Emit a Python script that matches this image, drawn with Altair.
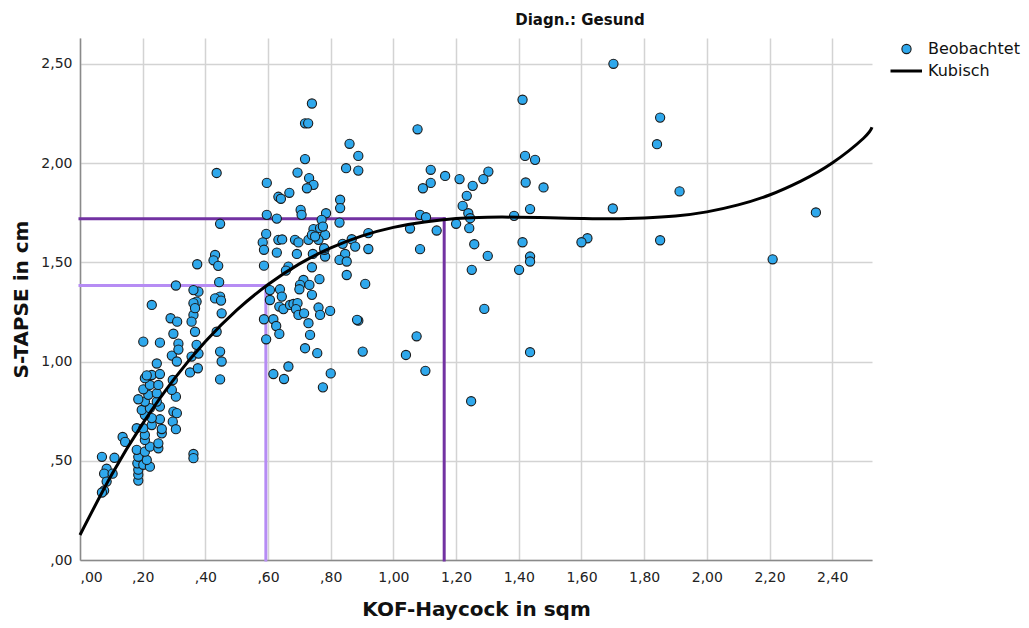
import altair as alt
import pandas as pd

# ---- observed data (KOF-Haycock in sqm, S-TAPSE in cm) ----
kof = [
    0.070, 0.110, 0.085, 0.077, 0.104, 0.085, 0.077, 0.070, 0.136, 0.144,
    0.186, 0.186, 0.186, 0.183, 0.202, 0.223, 0.213, 0.186, 0.181, 0.207,
    0.223, 0.250, 0.250, 0.207, 0.207, 0.181, 0.202, 0.229, 0.261, 0.261,
    0.255, 0.229, 0.207, 0.197, 0.223, 0.255, 0.245, 0.207, 0.186, 0.218,
    0.245, 0.202, 0.223, 0.250, 0.207, 0.229, 0.255, 0.213, 0.245, 0.202,
    0.255,
    0.298, 0.309, 0.296, 0.306, 0.306, 0.293, 0.296, 0.351, 0.376, 0.362,
    0.362, 0.293, 0.309, 0.298, 0.314, 0.314, 0.229, 0.356, 0.378, 0.372,
    0.436, 0.447, 0.452, 0.447, 0.452, 0.362, 0.367,
    0.436, 0.447, 0.431, 0.426, 0.441, 0.374, 0.306, 0.444, 0.447, 0.431,
    0.450, 0.378, 0.362, 0.372, 0.362, 0.367, 0.356, 0.289, 0.310,
    0.740, 0.718, 0.728, 0.718, 0.694, 0.596, 0.633, 0.641, 0.668, 0.731,
    0.745, 0.724, 0.596, 0.628, 0.704, 0.707, 0.785, 0.594, 0.583, 0.587,
    0.633, 0.645, 0.628, 0.686, 0.697, 0.729, 0.745, 0.740, 0.766, 0.782,
    0.761, 0.782, 0.743, 0.692, 0.587, 0.665, 0.657, 0.740, 0.764, 0.713,
    0.702, 0.732, 0.700, 0.740, 0.638, 0.644, 0.606, 0.606, 0.636, 0.649,
    0.670, 0.681, 0.694, 0.689, 0.697, 0.715, 0.761, 0.766, 0.798, 0.729,
    0.734, 0.587, 0.617, 0.626, 0.636, 0.594, 0.718, 0.757, 0.665, 0.617,
    0.651, 0.800, 0.775, 0.780, 0.771, 0.750,
    0.860, 0.888, 0.849, 0.888, 1.077, 0.830, 0.830, 0.828, 0.775, 0.779,
    0.867, 0.920, 0.838, 0.878, 0.920, 0.846, 0.828, 0.851, 0.851, 0.910,
    0.888, 0.884, 0.902, 1.053, 1.085, 1.085, 1.074, 1.040,
    1.119, 1.165, 1.211, 1.119, 1.094, 1.303, 1.287, 1.253, 1.234, 1.221,
    1.239, 1.245, 1.200, 1.242, 1.104, 1.138, 1.258, 1.301, 1.250, 1.290,
    1.102, 1.248, 1.420, 1.452, 1.422, 1.479, 1.436, 1.385, 1.412, 1.436,
    1.436, 1.401, 1.436, 1.412,
    1.702, 1.851, 1.841, 1.913, 1.700, 1.619, 1.600, 1.851, 2.210, 2.348,
]
tapse = [
    0.520, 0.515, 0.460, 0.435, 0.435, 0.395, 0.350, 0.340, 0.620, 0.595,
    0.400, 0.430, 0.455, 0.487, 0.480, 0.470, 0.504, 0.520, 0.555, 0.546,
    0.571, 0.563, 0.588, 0.605, 0.630, 0.664, 0.664, 0.680, 0.638, 0.660,
    0.709, 0.715, 0.730, 0.756, 0.765, 0.773, 0.798, 0.798, 0.810, 0.832,
    0.840, 0.860, 0.882, 0.882, 0.916, 0.932, 0.937, 0.930, 0.990, 1.100,
    1.095,
    0.748, 0.740, 0.697, 0.659, 0.823, 0.857, 0.907, 0.945, 0.966, 0.534,
    0.513, 1.030, 1.000, 1.140, 1.090, 1.060, 1.285, 1.025, 1.040, 1.084,
    1.150, 1.050, 1.000, 0.910, 1.243, 1.235, 1.150,
    1.950, 1.694, 1.537, 1.510, 1.482, 1.490, 1.383, 1.400, 1.327, 1.318,
    1.307, 1.352, 1.360, 1.302, 1.294, 1.269, 1.201, 1.218, 1.201,
    2.300, 2.200, 2.200, 2.020, 1.952, 1.900, 1.830, 1.820, 1.850, 1.924,
    1.890, 1.873, 1.739, 1.720, 1.764, 1.739, 1.747, 1.643, 1.600, 1.563,
    1.613, 1.615, 1.549, 1.613, 1.600, 1.613, 1.667, 1.638, 1.672, 1.638,
    1.613, 1.529, 1.542, 1.542, 1.483, 1.478, 1.458, 1.475, 1.415, 1.411,
    1.386, 1.386, 1.364, 1.336, 1.364, 1.327, 1.360, 1.310, 1.277, 1.264,
    1.285, 1.290, 1.294, 1.264, 1.235, 1.243, 1.272, 1.235, 1.255, 1.193,
    1.134, 1.213, 1.213, 1.179, 1.139, 1.112, 1.067, 1.042, 0.975, 0.937,
    0.912, 0.940, 0.870, 1.563, 1.714, 1.630,
    2.097, 2.036, 1.974, 1.962, 2.170, 1.815, 1.773, 1.700, 1.680, 1.571,
    1.616, 1.647, 1.593, 1.579, 1.567, 1.542, 1.512, 1.504, 1.436, 1.391,
    1.206, 1.210, 1.050, 1.670, 1.739, 1.566, 1.127, 1.033,
    1.966, 1.935, 1.919, 1.900, 1.873, 1.957, 1.919, 1.885, 1.835, 1.784,
    1.747, 1.722, 1.694, 1.672, 1.727, 1.660, 1.591, 1.532, 1.462, 1.265,
    0.953, 0.800, 2.036, 2.016, 1.902, 1.877, 1.768, 1.734, 1.601, 1.529,
    1.504, 1.462, 1.047, 2.319,
    2.500, 2.229, 2.095, 1.857, 1.771, 1.621, 1.601, 1.611, 1.515, 1.751,
]

# ---- cubic fit line ----
curve_x = [0.0, 0.1, 0.2, 0.3, 0.4, 0.5, 0.6, 0.7, 0.8, 0.9, 1.0, 1.1, 1.2,
           1.3, 1.4, 1.5, 1.6, 1.7, 1.8, 1.9, 2.0, 2.1, 2.2, 2.3, 2.4, 2.5, 2.527]
curve_y = [0.126, 0.427, 0.687, 0.911, 1.101, 1.259, 1.388, 1.492, 1.572, 1.633,
           1.676, 1.703, 1.720, 1.727, 1.727, 1.724, 1.721, 1.719, 1.723, 1.733,
           1.754, 1.789, 1.839, 1.909, 2.000, 2.125, 2.180]

# ---- reference guide lines ----
ref_x = [0.593, 1.162]
ref_y = [1.383, 1.719]
ref_color = ["#b68cf4", "#7232a2"]

x_ticks = [0.0, 0.2, 0.4, 0.6, 0.8, 1.0, 1.2, 1.4, 1.6, 1.8, 2.0, 2.2, 2.4]
y_ticks = [0.0, 0.5, 1.0, 1.5, 2.0, 2.5]
legend_labels = ["Beobachtet", "Kubisch"]
title_text = ["Diagn.: Gesund"]

FONT = "DejaVu Sans"
POINT_FILL = "#2fa8ec"

pts = pd.DataFrame({"kof": kof, "tapse": tapse})
cur = pd.DataFrame({"kof": curve_x, "tapse": curve_y})
refs = pd.DataFrame({"rx": ref_x, "ry": ref_y, "c": ref_color, "zero": [0.0, 0.0]})

label_expr = ("datum.value < 1 ? replace(format(datum.value, '.2f'), '0.', ',') "
              ": replace(format(datum.value, '.2f'), '.', ',')")

xs = alt.Scale(domain=[0, 2.527], nice=False, zero=False)
ys = alt.Scale(domain=[0, 2.63], nice=False, zero=False)

common_axis = dict(
    labelExpr=label_expr, grid=True, gridColor="#d3d3d3", gridWidth=1.5,
    domainColor="#8a8a8a", domainWidth=1.5, ticks=False, tickSize=0,
    labelFont=FONT, labelFontSize=14, labelColor="#222222",
    titleFont=FONT, titleFontSize=20, titleFontWeight="bold", titleColor="#111111",
)
xaxis = alt.Axis(values=x_ticks, title="KOF-Haycock in sqm", labelPadding=10,
                 titlePadding=15, **common_axis)
yaxis = alt.Axis(values=y_ticks, title="S-TAPSE in cm", labelPadding=8,
                 titlePadding=9, **common_axis)

ref_h = alt.Chart(refs).mark_rule(strokeWidth=3, strokeCap="square").encode(
    x=alt.X("zero:Q", scale=xs, axis=xaxis),
    x2="rx:Q",
    y=alt.Y("ry:Q", scale=ys, axis=yaxis),
    color=alt.Color("c:N", scale=None),
)
ref_v = alt.Chart(refs).mark_rule(strokeWidth=3, strokeCap="square").encode(
    x=alt.X("rx:Q", scale=xs, axis=xaxis),
    y=alt.Y("zero:Q", scale=ys, axis=yaxis),
    y2="ry:Q",
    color=alt.Color("c:N", scale=None),
)

points = alt.Chart(pts).mark_point(
    shape="circle", filled=True, size=85, fill=POINT_FILL, stroke="#1a1a1a",
    strokeWidth=1.1, opacity=1,
).encode(
    x=alt.X("kof:Q", scale=xs, axis=xaxis),
    y=alt.Y("tapse:Q", scale=ys, axis=yaxis),
)

curve = alt.Chart(cur).mark_line(color="black", strokeWidth=3, interpolate="natural").encode(
    x=alt.X("kof:Q", scale=xs, axis=xaxis),
    y=alt.Y("tapse:Q", scale=ys, axis=yaxis),
)

# ---- panel title (placed over the chart like the SPSS header) ----
ttl = alt.Chart(pd.DataFrame({"label": title_text})).mark_text(
    align="center", baseline="alphabetic", font=FONT, fontSize=15,
    fontWeight="bold", color="#111111",
).encode(x=alt.value(500), y=alt.value(-13), text="label:N")

# ---- legend (drawn to the right of the plot area) ----
leg_pt = alt.Chart(pd.DataFrame({"label": [legend_labels[0]]})).mark_point(
    shape="circle", filled=True, size=85, fill=POINT_FILL, stroke="#1a1a1a",
    strokeWidth=1.1, opacity=1,
).encode(x=alt.value(826.5), y=alt.value(11))
leg_ln = alt.Chart(pd.DataFrame({"label": [legend_labels[1]]})).mark_rule(
    color="black", strokeWidth=3,
).encode(x=alt.value(810.5), x2=alt.value(842), y=alt.value(33))
leg_txt1 = alt.Chart(pd.DataFrame({"label": [legend_labels[0]]})).mark_text(
    align="left", baseline="middle", font=FONT, fontSize=16, color="#111111",
).encode(x=alt.value(848), y=alt.value(11), text="label:N")
leg_txt2 = alt.Chart(pd.DataFrame({"label": [legend_labels[1]]})).mark_text(
    align="left", baseline="middle", font=FONT, fontSize=16, color="#111111",
).encode(x=alt.value(848), y=alt.value(33), text="label:N")

chart = alt.layer(
    ref_h, ref_v, points, curve, ttl, leg_pt, leg_ln, leg_txt1, leg_txt2
).properties(
    width=792,
    height=522,
    padding={"left": 72, "top": 30, "right": 149, "bottom": 60},
    autosize=alt.AutoSizeParams(type="none"),
).configure_view(stroke=None)

chart.save("out.html", embed_options={"renderer": "svg", "actions": False})
